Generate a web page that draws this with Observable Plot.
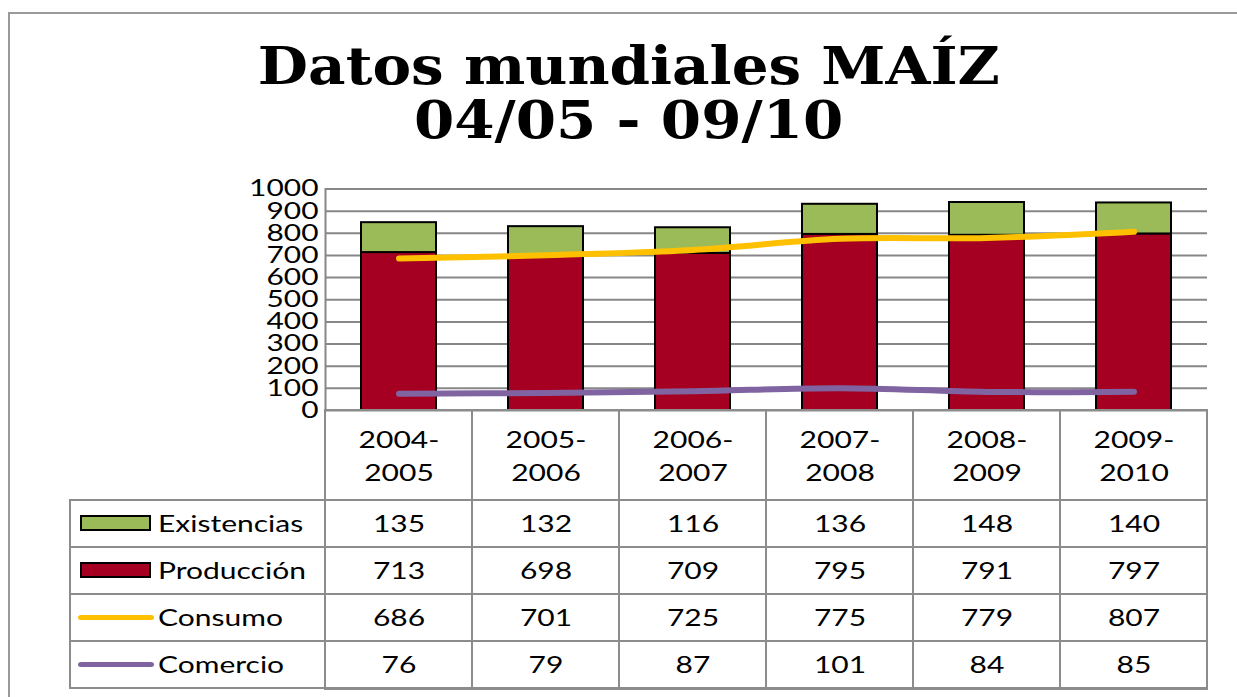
<!DOCTYPE html>
<html>
<head>
<meta charset="utf-8">
<script src="https://cdn.jsdelivr.net/npm/d3@7"></script>
<script src="https://cdn.jsdelivr.net/npm/@observablehq/plot@0.6"></script>
<style>
html, body { margin: 0; padding: 0; background: #fff; }
#wrap { position: relative; width: 1237px; height: 697px; overflow: hidden; background: #fff; }
#frame { position: absolute; left: 8px; top: 12px; width: 1400px; height: 900px; border-top: 2px solid #9a9a9a; border-left: 2px solid #9a9a9a; box-sizing: border-box; }
#title { position: absolute; left: 0; top: 39px; width: 1258px; text-align: center; font-family: "DejaVu Serif", serif; font-weight: bold; font-size: 52px; line-height: 54px; color: #000; }
#title span { display: inline-block; transform-origin: 50% 50%; white-space: nowrap; }
#chart { position: absolute; left: 0; top: 160px; }
#table { position: absolute; left: 0; top: 410px; }
svg { overflow: visible; }
</style>
</head>
<body>
<div id="wrap">
  <div id="frame"></div>
  <div id="title"><span id="t1">Datos mundiales MAÍZ</span><br><span id="t2">04/05 - 09/10</span></div>
  <div id="chart"></div>
  <div id="table"></div>
</div>
<script>
// ---- data ----
const categories = ["2004-2005", "2005-2006", "2006-2007", "2007-2008", "2008-2009", "2009-2010"];
const existencias = [135, 132, 116, 136, 148, 140];
const produccion = [713, 698, 709, 795, 791, 797];
const consumo = [686, 701, 725, 775, 779, 807];
const comercio = [76, 79, 87, 101, 84, 85];
const seriesNames = ["Existencias", "Producción", "Consumo", "Comercio"];
const yTicks = [0, 100, 200, 300, 400, 500, 600, 700, 800, 900, 1000];

const seriesValues = {Existencias: existencias, "Producción": produccion, Consumo: consumo, Comercio: comercio};

const barData = [
  ...categories.map((c, i) => ({cat: c, serie: "Producción", value: produccion[i]})),
  ...categories.map((c, i) => ({cat: c, serie: "Existencias", value: existencias[i]}))
];
const consumoData = categories.map((c, i) => ({cat: c, value: consumo[i]}));
const comercioData = categories.map((c, i) => ({cat: c, value: comercio[i]}));
const cells = seriesNames.flatMap(s => categories.map((c, i) => ({cat: c, serie: s, value: seriesValues[s][i]})));

const GRID = "#878787";
const LINE = "#8c8c8c";
const FONT = "Lato, 'Open Sans', sans-serif";

// title: stretch to the reference width
{
  const t1 = document.getElementById("t1"), t2 = document.getElementById("t2");
  const w = t1.getBoundingClientRect().width;
  const s = 742 / w;
  t1.style.transform = `scaleX(${s})`;
  t2.style.transform = `scaleX(${s})`;
}

const chart = Plot.plot({
  width: 1237,
  height: 250,
  marginTop: 28.5,
  marginBottom: 0,
  marginLeft: 325,
  marginRight: 30,
  style: {background: "transparent", overflow: "visible", fontFamily: FONT, fontSize: "23px", color: "#000"},
  x: {domain: categories, padding: 0, axis: null},
  y: {domain: [0, 1000], axis: null},
  color: {domain: ["Producción", "Existencias"], range: ["#A50021", "#9BBB59"]},
  marks: [
    Plot.gridY(yTicks, {stroke: GRID, strokeOpacity: 1, strokeWidth: 2}),
    Plot.frame({anchor: "left", stroke: GRID, strokeWidth: 2}),
    Plot.axisY(yTicks, {tickSize: 0, tickPadding: 7, fontSize: 23, label: null, tickFormat: d => String(d), fill: "#000"}),
    Plot.barY(barData, {x: "cat", y: "value", fill: "serie", stroke: "#000", strokeWidth: 2, insetLeft: 36, insetRight: 36}),
    Plot.lineY(consumoData, {x: "cat", y: "value", stroke: "#FFC000", strokeWidth: 6, curve: "catmull-rom", strokeLinecap: "round", strokeLinejoin: "round"}),
    Plot.lineY(comercioData, {x: "cat", y: "value", stroke: "#8064A2", strokeWidth: 6, curve: "catmull-rom", strokeLinecap: "round", strokeLinejoin: "round"})
  ]
});
document.getElementById("chart").appendChild(chart);

const swatchColor = {Existencias: "#9BBB59", "Producción": "#A50021", Consumo: "#FFC000", Comercio: "#8064A2"};
const barSeries = ["Existencias", "Producción"];
const lineSeries = ["Consumo", "Comercio"];

const table = Plot.plot({
  width: 1237,
  height: 287,
  marginTop: 88,
  marginBottom: 8,
  marginLeft: 325,
  marginRight: 30,
  style: {background: "transparent", overflow: "visible", fontFamily: FONT, fontSize: "24px", color: "#000"},
  x: {domain: categories, padding: 0, axis: null},
  y: {domain: seriesNames, padding: 0, axis: null},
  marks: [
    Plot.cell(categories, {x: d => d, insetTop: -88, fill: "none", stroke: LINE, strokeWidth: 2}),
    Plot.cell(cells, {x: "cat", y: "serie", fill: "none", stroke: LINE, strokeWidth: 2}),
    Plot.cell(seriesNames, {x: () => categories[0], y: d => d, insetLeft: -255, insetRight: 147, fill: "none", stroke: LINE, strokeWidth: 2}),
    Plot.cell(barSeries, {x: () => categories[0], y: d => d, insetLeft: -244, insetRight: 322, insetTop: 16, insetBottom: 17, fill: d => swatchColor[d], stroke: "#000", strokeWidth: 2}),
    Plot.cell(lineSeries, {x: () => categories[0], y: d => d, insetLeft: -247, insetRight: 318, insetTop: 21, insetBottom: 21, rx: 3, fill: d => swatchColor[d]}),
    Plot.text(seriesNames, {x: () => categories[0], y: d => d, text: d => d, textAnchor: "start", dx: -241, fontSize: 24, fill: "#000"}),
    Plot.text(cells, {x: "cat", y: "serie", text: d => String(d.value), fontSize: 24, fill: "#000"}),
    Plot.text(categories, {x: d => d, text: d => d.split("-")[0] + "-", frameAnchor: "top", lineAnchor: "middle", dy: -58, fontSize: 24, fill: "#000"}),
    Plot.text(categories, {x: d => d, text: d => d.split("-")[1], frameAnchor: "top", lineAnchor: "middle", dy: -25, fontSize: 24, fill: "#000"})
  ]
});
document.getElementById("table").appendChild(table);

// widen the sans text horizontally like the reference rendering
const K = 1.25;
for (const svg of [chart, table]) {
  const k = svg === chart ? 1.3 : K;
  svg.querySelectorAll("text").forEach(t => {
    const len = t.getComputedTextLength();
    if (len > 0) {
      t.setAttribute("textLength", (len * k).toFixed(1));
      t.setAttribute("lengthAdjust", "spacingAndGlyphs");
    }
  });
}
</script>
</body>
</html>
